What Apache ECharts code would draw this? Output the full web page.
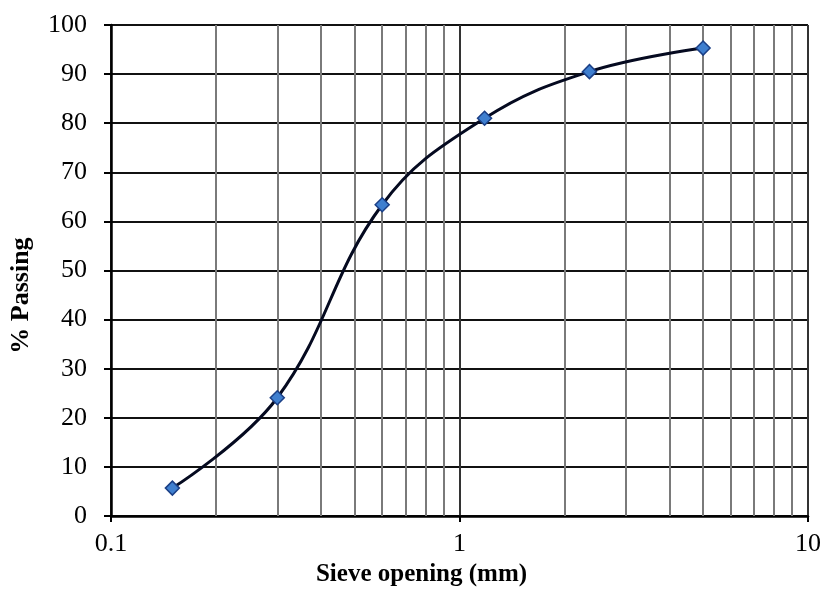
<!DOCTYPE html>
<html>
<head>
<meta charset="utf-8">
<script src="https://cdn.jsdelivr.net/npm/echarts@6/dist/echarts.min.js"></script>
<style>
  html, body { margin: 0; padding: 0; background: #fff; }
  #chart { width: 825px; height: 592px; }
</style>
</head>
<body>
<div id="chart"></div>
<script>
// sieve sizes (mm) and % passing
var sieveSize = [0.15, 0.3, 0.6, 1.18, 2.36, 5];
var passing = [5.7, 24.1, 63.4, 81, 90.5, 95.3];
// minor log grid lines
var minorLines = [0.2, 0.3, 0.4, 0.5, 0.6, 0.7, 0.8, 0.9, 2, 3, 4, 5, 6, 7, 8, 9];

var chart = echarts.init(document.getElementById('chart'));

var pts = [];
for (var i = 0; i < sieveSize.length; i++) {
    pts.push([sieveSize[i], passing[i]]);
}
var mlData = [];
for (var j = 0; j < minorLines.length; j++) {
    mlData.push({ xAxis: minorLines[j] });
}

var font = 'Liberation Serif';

chart.setOption({
    animation: false,
    grid: { left: 110, right: 17, top: 25, bottom: 73 },
    xAxis: {
        type: 'log',
        logBase: 10,
        min: 0.1,
        max: 10,
        name: 'Sieve opening (mm)',
        nameLocation: 'middle',
        nameGap: 45,
        nameTextStyle: { fontFamily: font, fontWeight: 'bold', fontSize: 25, color: '#000', padding: [0, 76, 0, 0] },
        axisLine: { lineStyle: { color: '#000', width: 2.5 } },
        axisTick: { show: true, length: 6, lineStyle: { color: '#000', width: 2 } },
        axisLabel: { fontFamily: font, fontSize: 26, color: '#000', margin: 15 },
        splitLine: { show: true, lineStyle: { color: '#333', width: 2 } }
    },
    yAxis: {
        type: 'value',
        min: 0,
        max: 100,
        interval: 10,
        name: '% Passing',
        nameLocation: 'middle',
        nameGap: 77,
        nameTextStyle: { fontFamily: font, fontWeight: 'bold', fontSize: 26, color: '#000', padding: [0, 50, 0, 0] },
        axisLine: { show: true, lineStyle: { color: '#000', width: 2.5 } },
        axisTick: { show: true, length: 7, lineStyle: { color: '#000', width: 2 } },
        axisLabel: { fontFamily: font, fontSize: 26, color: '#000', margin: 24 },
        splitLine: { show: true, lineStyle: { color: '#111', width: 2 } }
    },
    series: [
        {
            type: 'line',
            data: [],
            silent: true,
            markLine: {
                silent: true,
                symbol: 'none',
                label: { show: false },
                lineStyle: { color: '#7a7a7a', width: 2, type: 'solid' },
                data: mlData
            }
        },
        {
            type: 'line',
            data: pts,
            smooth: 0.4,
            symbol: 'diamond',
            symbolSize: 14,
            lineStyle: { color: '#050a20', width: 3 },
            itemStyle: { color: '#3f7fcf', borderColor: '#1b3f86', borderWidth: 1.5 },
            z: 5
        }
    ]
});
</script>
</body>
</html>
